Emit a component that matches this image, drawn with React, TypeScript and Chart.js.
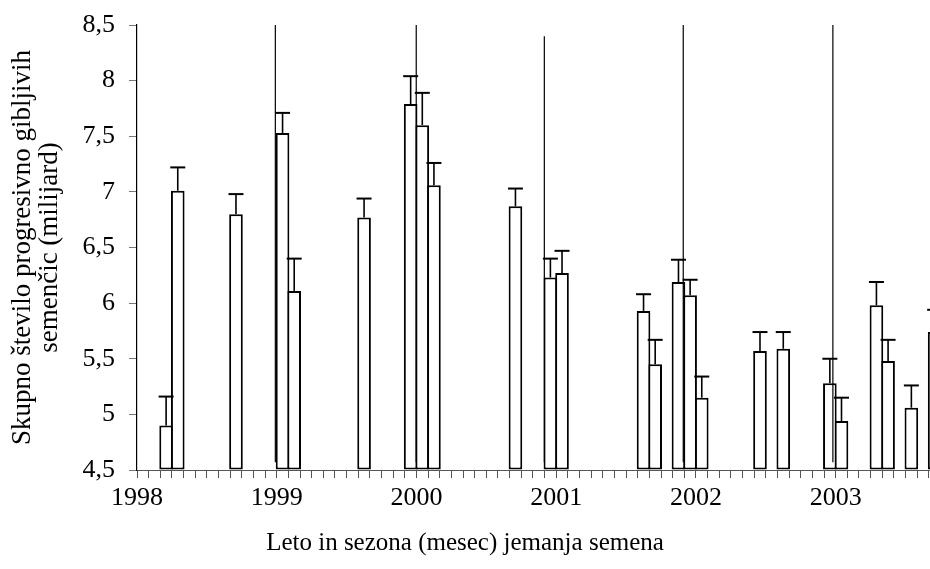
import React, { useEffect, useRef } from "react";
import { Chart, registerables } from "chart.js";

Chart.register(...registerables);

// Month slot index (0 = January 1998) of each bar
const months = [2, 3, 8, 12, 13, 19, 23, 24, 25, 32, 35, 36, 43, 44, 46, 47, 48, 53, 55, 59, 60, 63, 64, 66, 68];
// Mean values (billions)
const values = [4.9, 7.01, 6.8, 7.53, 6.11, 6.77, 7.79, 7.6, 7.06, 6.87, 6.23, 6.27, 5.93, 5.45, 6.19, 6.07, 5.15, 5.57, 5.59, 5.28, 4.94, 5.98, 5.48, 5.06, 5.74];
// Upper end of error bars
const upper = [5.16, 7.22, 6.98, 7.71, 6.4, 6.94, 8.04, 7.89, 7.26, 7.03, 6.4, 6.47, 6.08, 5.67, 6.39, 6.21, 5.34, 5.74, 5.74, 5.5, 5.15, 6.19, 5.67, 5.26, 5.94];
// Year labels at every 12th month tick
const yearLabels = ["1998", "1999", "2000", "2001", "2002", "2003"];
// Vertical divider lines (month position, top value, bottom value)
const dividerMonths = [11.88, 23.98, 34.98, 46.91, 59.76];
const dividerTops = [8.5, 8.5, 8.4, 8.5, 8.5];
const dividerBottoms = [4.57, 4.57, 4.57, 4.57, 4.57];

const FONT = "'Liberation Serif', 'Times New Roman', serif";

const errorBarPlugin = {
  id: "errorBarsAndDividers",
  afterDatasetsDraw(chart: any) {
    const { ctx, scales } = chart;
    const x = scales.x;
    const y = scales.y;
    const meta = chart.getDatasetMeta(0);
    ctx.save();
    ctx.strokeStyle = "#000";
    ctx.lineCap = "butt";
    meta.data.forEach((bar: any, i: number) => {
      const cx = bar.x;
      const yv = y.getPixelForValue(values[i]);
      const yt = y.getPixelForValue(upper[i]);
      ctx.lineWidth = 1.6;
      ctx.beginPath();
      ctx.moveTo(cx, yv);
      ctx.lineTo(cx, yt);
      ctx.stroke();
      ctx.lineWidth = 2;
      ctx.beginPath();
      ctx.moveTo(cx - 7.5, yt);
      ctx.lineTo(cx + 7.5, yt);
      ctx.stroke();
    });
    ctx.lineWidth = 1.2;
    dividerMonths.forEach((m, i) => {
      const px = x.getPixelForValue(m);
      ctx.beginPath();
      ctx.moveTo(px, y.getPixelForValue(dividerTops[i]));
      ctx.lineTo(px, y.getPixelForValue(dividerBottoms[i]));
      ctx.stroke();
    });
    ctx.restore();
  },
};

export default function App() {
  const ref = useRef<HTMLCanvasElement | null>(null);
  useEffect(() => {
    if (!ref.current) return;
    const chart = new Chart(ref.current, {
      type: "bar",
      data: {
        datasets: [
          {
            data: months.map((m, i) => ({ x: m + 0.5, y: values[i] })),
            base: 4.5,
            backgroundColor: "#ffffff",
            borderColor: "#000000",
            borderWidth: 2,
            borderSkipped: false,
            barPercentage: 1.17,
            categoryPercentage: 1,
          } as any,
        ],
      },
      options: {
        animation: false,
        responsive: true,
        maintainAspectRatio: false,
        layout: { padding: { top: 25, right: 0, left: 0, bottom: 0 } },
        plugins: {
          legend: { display: false },
          tooltip: { enabled: false },
          title: {
            display: true,
            text: "Leto in sezona (mesec) jemanja semena",
            position: "bottom",
            color: "#000",
            font: { family: FONT, size: 25, weight: "normal" as any, lineHeight: 1.2 },
            padding: { top: 3, bottom: 11 },
          },
        },
        scales: {
          x: {
            type: "linear",
            min: 0,
            max: 68.1,
            offset: false,
            afterFit: (s: any) => {
              s.height = 55;
              s.paddingLeft = 0;
              s.paddingRight = 0;
            },
            grid: { display: true, drawOnChartArea: false, drawTicks: true, tickLength: 8, color: "#555", offset: false },
            border: { display: true, color: "#555", width: 1 },
            ticks: {
              stepSize: 1,
              autoSkip: false,
              maxRotation: 0,
              includeBounds: false,
              padding: 5,
              color: "#000",
              font: { family: FONT, size: 26 },
              callback: (v: any) => {
                const n = Math.round(Number(v));
                return n % 12 === 0 && yearLabels[n / 12] ? yearLabels[n / 12] : "";
              },
            },
          },
          y: {
            min: 4.5,
            max: 8.5,
            afterFit: (s: any) => {
              s.width = 137;
              s.paddingTop = 0;
              s.paddingBottom = 0;
            },
            grid: { display: true, drawOnChartArea: false, drawTicks: true, tickLength: 8, color: "#777" },
            border: { display: true, color: "#000", width: 1.2 },
            ticks: {
              stepSize: 0.5,
              padding: 14,
              color: "#000",
              font: { family: FONT, size: 26 },
              callback: (v: any) => String(Number(v)).replace(".", ","),
            },
            title: {
              display: true,
              text: ["Skupno število progresivno gibljivih", "semenčic (milijard)"],
              color: "#000",
              font: { family: FONT, size: 27, lineHeight: 1.0 },
              padding: { top: 9, bottom: 0 },
            },
          },
        },
      },
      plugins: [errorBarPlugin],
    });
    return () => chart.destroy();
  }, []);
  return (
    <div style={{ position: "absolute", left: 0, top: 0, width: 930, height: 569, overflow: "hidden", background: "#fff" }}>
      <canvas ref={ref} />
    </div>
  );
}
